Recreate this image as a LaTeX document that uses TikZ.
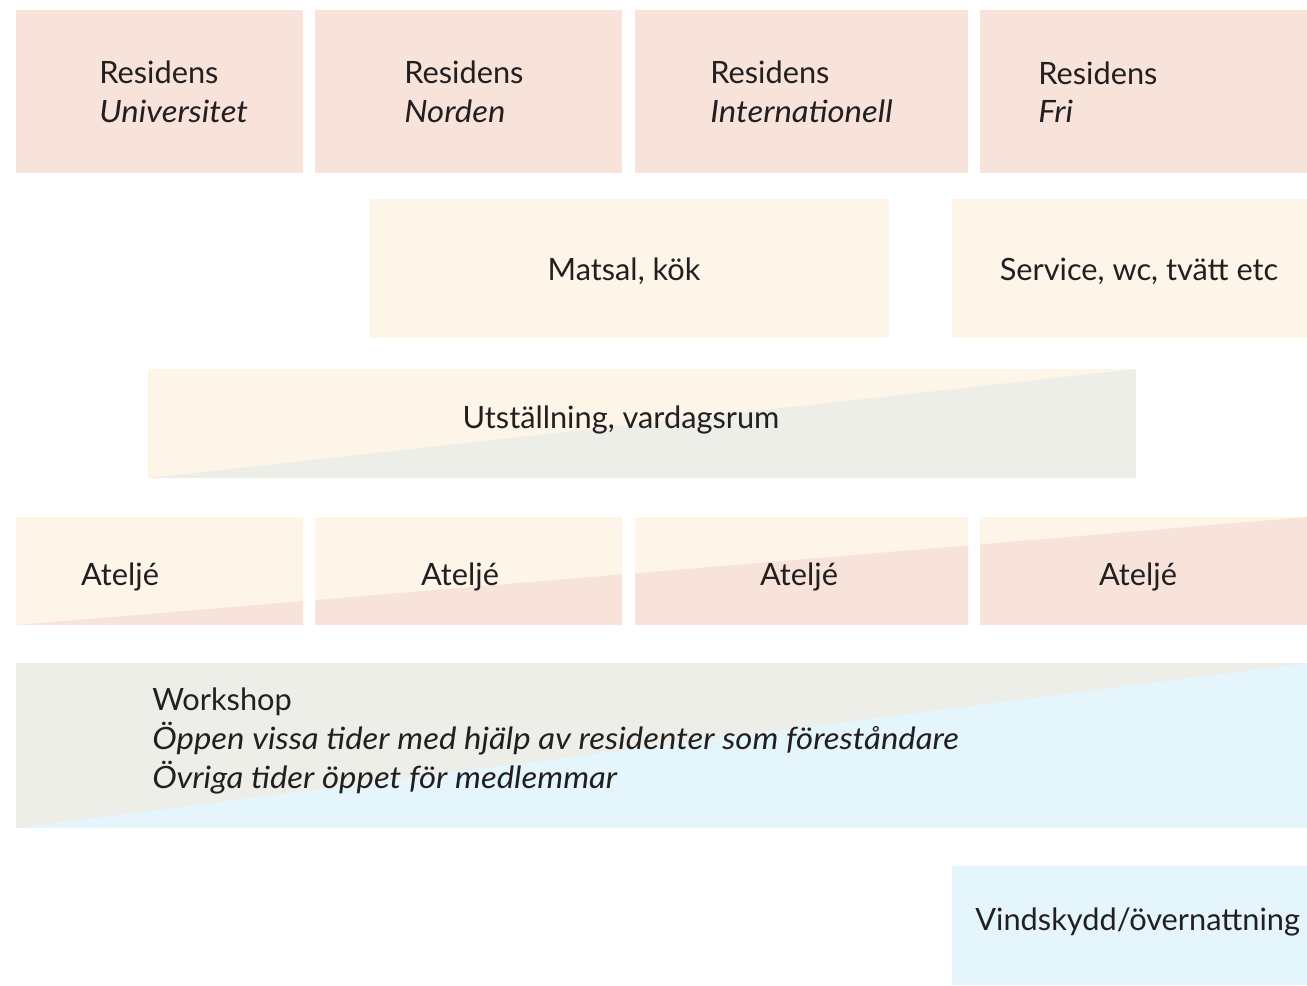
\documentclass[tikz,border=0pt]{standalone}
\usepackage{fontspec}
\setmainfont{Lato}[ItalicFeatures={FakeStretch=1.07}]
\usepackage{tikz}

\definecolor{roomPink}{HTML}{F8E3DA}
\definecolor{roomCream}{HTML}{FDF6E8}
\definecolor{roomGrey}{HTML}{EEEEE9}
\definecolor{roomBlue}{HTML}{E4F5FC}
\definecolor{roomText}{HTML}{231F20}

\tikzset{
  roomlabel/.style={text=roomText, inner sep=0pt, font=\fontsize{17.5}{22}\selectfont},
  roomleft/.style={roomlabel, anchor=west, align=left}
}

\begin{document}
\begin{tikzpicture}[x=0.02cm, y=-0.02cm]
    \useasboundingbox (0,0) rectangle (1307,985);

    % First row: residens
    \fill[roomPink] (16,10) rectangle (303,173);
    \fill[roomPink] (315,10) rectangle (622,173);
    \fill[roomPink] (635,10) rectangle (968,173);
    \fill[roomPink] (980,10) rectangle (1307,173);
    \node[roomleft] (resUni) at (99,92) {Residens\\\textit{Universitet}};
    \node[roomleft] (resNor) at (404,92) {Residens\\\textit{Norden}};
    \node[roomleft] (resInt) at (710,92) {Residens\\\textit{Internationell}};
    \node[roomleft] (resFri) at (1038,92) {Residens\\\textit{Fri}};

    % Second row: matsal and service
    \fill[roomCream] (370,199) rectangle (889,338);
    \fill[roomCream] (952,199) rectangle (1307,338);
    \node[roomlabel] (matsal) at (624,271) {Matsal, kök};
    \node[roomlabel] (service) at (1139,271) {Service, wc, tvätt etc};

    % Third row: utställning, split on the diagonal
    \fill[roomCream] (148,369) rectangle (1136,478);
    \fill[roomGrey] (148,478) -- (1136,369) -- (1136,478) -- cycle;
    \node[roomlabel] (utst) at (621,420) {Utställning, vardagsrum};

    % Fourth row: ateljéer, one diagonal across all four
    \begin{scope}
        \clip (16,517) rectangle (303,625) (315,517) rectangle (622,625)
              (635,517) rectangle (968,625) (980,517) rectangle (1307,625);
        \fill[roomCream] (16,517) rectangle (1307,625);
        \fill[roomPink] (16,625) -- (1307,517) -- (1307,625) -- cycle;
    \end{scope}
    \foreach \cx/\name in {120/atA, 460/atB, 799/atC, 1138/atD}
        \node[roomlabel] (\name) at (\cx,577) {Ateljé};

    % Fifth row: workshop
    \fill[roomGrey] (16,663) rectangle (1307,828);
    \fill[roomBlue] (16,828) -- (1307,663) -- (1307,828) -- cycle;
    \node[roomleft] (workshop) at (152,741) {Workshop\\
        \textit{Öppen vissa tider med hjälp av residenter som föreståndare}\\
        \textit{Övriga tider öppet för medlemmar}};

    % Last row: vindskydd
    \fill[roomBlue] (952,866) rectangle (1307,985);
    \node[roomlabel, anchor=west] (vind) at (975,922) {Vindskydd/övernattning};
\end{tikzpicture}
\end{document}
